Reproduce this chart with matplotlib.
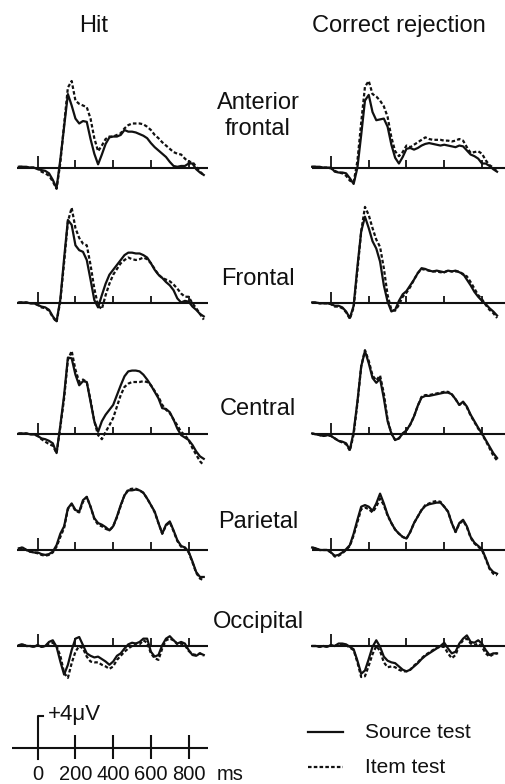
import numpy as np
import matplotlib
matplotlib.use("Agg")
import matplotlib.pyplot as plt

plt.rcParams['font.family'] = ['Liberation Sans', 'DejaVu Sans']

# ---------------- data (µV, sampled every 20 ms from -100 to 880 ms) ----------------
times = np.arange(-100, 881, 20)

af_hit_src = [0.1,0.1,0.1,0.0,0.0,-0.2, -0.3,-0.4,-0.7,-1.5,-2.5, 1.0,5.0,9.0,7.6,6.0, 5.4,5.7,5.6,3.5,1.7, 0.4,1.6,2.9,3.7,3.8, 3.8,4.0,4.6,4.4,4.4, 4.3,4.1,3.9,3.6,3.0, 2.5,2.1,1.7,1.3,0.7, 0.2,0.1,0.2,0.2,0.5, 0.5,-0.2,-0.6,-0.9]
af_hit_item = [0.1,0.1,0.0,0.0,0.0,-0.1, -0.5,-0.7,-1.0,-1.7,-2.6, 0.6,5.3,9.8,10.6,8.2, 7.8,7.6,7.4,6.0,3.6, 2.0,2.7,3.5,3.8,3.8, 4.0,4.2,4.8,5.2,5.4, 5.4,5.4,5.3,5.0,4.6, 4.0,3.6,3.1,2.7,2.3, 1.9,1.7,1.6,1.1,0.7, 0.7,0.1,-0.5,-0.9]
af_cr_src = [0.1,0.1,0.1,0.0,0.0,0.0, -0.5,-0.6,-0.6,-0.7,-1.3, -2.0,0.0,4.0,8.2,8.9, 6.8,5.8,5.9,6.0,5.0, 2.8,1.2,0.5,1.3,2.3, 2.4,2.2,2.4,2.7,2.9, 3.0,2.9,2.8,2.7,2.8, 2.7,2.6,2.5,2.7,2.6, 2.1,1.6,1.4,1.1,0.5, 0.5,0.2,-0.2,-0.5]
af_cr_item = [0.1,0.1,0.0,0.0,0.0,-0.1, -0.4,-0.6,-0.7,-1.0,-1.6, -1.8,0.8,5.5,9.9,10.6, 9.0,8.7,8.2,7.5,6.2, 3.7,2.0,1.4,1.9,2.7, 2.5,2.8,3.1,3.4,3.7, 3.5,3.4,3.4,3.4,3.3, 3.3,3.2,3.3,3.5,3.3, 2.5,1.8,1.9,2.0,1.7, 0.9,0.3,0.0,-0.5]

fr_hit_src = [0.1,0.1,0.1,0.0,0.0,-0.2, -0.4,-0.5,-0.8,-1.6,-2.2, 0.5,5.5,10.2,9.6,7.1, 6.5,6.3,5.3,2.9,0.4, -0.5,1.0,2.4,3.5,4.1, 4.7,5.3,5.9,6.2,6.2, 6.1,6.1,5.9,5.6,4.9, 4.1,3.5,3.1,2.6,2.2, 1.6,0.6,0.1,0.3,0.2, -0.4,-0.8,-1.3,-1.6]
fr_hit_item = [0.1,0.1,0.1,0.0,0.0,-0.2, -0.5,-0.6,-0.9,-1.7,-2.3, 0.3,5.0,10.0,11.7,9.2, 8.0,7.3,7.1,4.7,1.8, -0.3,-0.7,1.0,2.4,3.5, 4.2,4.9,5.3,5.6,5.4, 5.3,5.4,5.6,5.4,4.9, 4.2,3.5,3.1,2.9,2.7, 2.3,1.8,1.2,0.8,0.8, 0.0,-0.6,-1.3,-2.0]
fr_cr_src = [0.1,0.1,0.0,0.0,0.0,-0.1, -0.3,-0.3,-0.5,-1.0,-1.8, -0.3,4.5,8.8,10.6,9.2, 7.6,6.7,5.1,2.2,0.2, -1.0,-0.8,0.3,1.1,1.5, 2.2,2.9,3.7,4.3,4.2, 4.0,3.9,4.0,3.9,3.8, 4.0,3.9,4.0,3.8,3.6, 2.9,2.2,1.4,0.8,0.3, -0.1,-0.6,-1.0,-1.5]
fr_cr_item = [0.1,0.1,0.0,0.0,0.0,-0.1, -0.4,-0.4,-0.6,-1.1,-1.9, -0.5,4.0,8.8,11.8,10.8, 9.2,7.8,6.9,4.3,1.0, -0.8,-0.9,-0.2,0.8,1.3, 2.0,2.9,3.7,4.2,4.1, 4.0,3.9,3.9,3.8,3.8, 4.0,3.9,3.9,3.9,3.5, 3.3,2.6,1.8,1.0,0.5, -0.2,-0.8,-1.2,-1.8]

ce_hit_src = [0.1,0.1,0.1,0.0,0.0,-0.2, -0.5,-0.6,-0.8,-1.1,-2.3, 1.1,4.8,9.4,9.3,7.3, 6.0,6.5,6.4,4.0,1.6, 0.3,1.6,2.4,3.0,3.6, 4.8,6.0,7.1,7.7,7.8, 7.8,7.7,7.3,6.7,6.0, 5.2,4.4,3.2,3.1,2.7, 1.8,0.7,-0.1,-0.4,-0.7, -1.3,-2.1,-2.7,-3.0]
ce_hit_item = [0.1,0.1,0.1,0.0,0.0,-0.2, -0.6,-0.9,-1.2,-1.4,-2.3, 0.9,4.4,9.1,10.2,7.9, 6.4,6.7,6.4,4.2,1.6, -0.1,-0.6,0.3,1.1,2.0, 3.4,4.8,5.8,6.2,6.4, 6.4,6.4,6.5,6.4,6.0, 5.3,4.6,3.6,3.0,2.6, 1.8,1.1,0.3,-0.1,-0.7, -1.7,-2.5,-3.3,-3.8]
ce_cr_src = [0.1,0.0,-0.1,-0.2,-0.1,-0.2, -0.5,-0.8,-0.9,-1.1,-1.9, 0.3,4.0,8.3,10.2,8.7, 6.9,6.3,6.8,4.4,1.6, 0.1,-0.7,-0.5,0.1,0.5, 1.2,2.2,3.5,4.5,4.7, 4.7,4.8,4.9,5.0,5.1, 5.1,4.9,4.3,3.6,4.0, 3.4,2.4,1.6,0.8,0.1, -0.7,-1.5,-2.3,-2.9]
ce_cr_item = [0.1,0.0,-0.1,-0.2,-0.1,-0.2, -0.5,-0.8,-1.0,-1.2,-2.0, 0.0,3.8,8.3,10.3,9.0, 7.2,6.6,7.2,5.0,1.8, 0.1,-0.7,-0.5,0.1,0.5, 1.2,2.2,3.5,4.6,4.8, 4.8,4.9,5.0,5.1,5.2, 5.2,4.9,4.3,3.6,3.9, 3.3,2.3,1.5,0.7,0.0, -0.8,-1.7,-2.6,-3.2]

pa_hit_src = [0.2,0.3,0.0,-0.2,-0.3,-0.3, -0.5,-0.6,-0.5,-0.2,0.6, 2.0,2.9,5.1,5.7,4.9, 4.7,6.1,6.5,5.3,3.9, 3.3,3.1,2.8,2.4,2.9, 4.1,5.5,6.7,7.3,7.3, 7.4,7.3,7.0,6.3,5.5, 4.7,3.3,2.0,3.1,3.5, 2.4,1.2,0.5,0.3,-0.2, -1.4,-2.7,-3.3,-3.3]
pa_hit_item = [0.2,0.3,0.0,-0.2,-0.3,-0.4, -0.6,-0.7,-0.6,-0.3,0.4, 1.6,2.7,5.0,5.6,4.8, 4.6,5.9,6.5,5.3,3.8, 3.1,2.9,2.6,2.4,2.9, 4.0,5.4,6.7,7.4,7.5, 7.5,7.3,7.0,6.3,5.5, 4.6,3.3,2.0,3.0,3.4, 2.3,1.1,0.4,0.3,-0.3, -1.5,-2.8,-3.5,-3.7]
pa_cr_src = [0.3,0.2,0.0,0.0,0.0,-0.3, -0.7,-0.6,-0.3,0.1,0.6, 2.0,3.7,5.3,5.5,5.3, 4.8,5.7,6.9,5.7,4.3, 3.3,2.5,2.0,1.6,1.4, 2.2,3.3,4.1,4.9,5.4, 5.6,5.7,5.8,5.8,5.3, 4.7,3.3,2.2,3.3,3.7, 2.9,1.6,0.9,0.5,0.1, -1.0,-2.2,-2.7,-2.9]
pa_cr_item = [0.3,0.2,0.0,0.0,0.0,-0.3, -0.8,-0.7,-0.4,0.0,0.5, 1.8,3.4,5.0,5.2,5.0, 4.6,5.3,6.3,5.5,4.2, 3.3,2.5,2.0,1.6,1.4, 2.2,3.3,4.1,4.9,5.5, 5.7,5.9,6.0,5.9,5.3, 4.7,3.3,2.2,3.2,3.6, 2.8,1.5,0.8,0.4,0.0, -1.1,-2.3,-2.9,-3.1]

oc_hit_src = [0.1,0.2,0.0,0.0,-0.1,0.1, -0.1,0.0,0.5,0.7,-0.1, -1.9,-3.5,-2.3,-0.5,0.9, 1.1,0.1,-0.9,-1.2,-1.4, -1.3,-1.6,-1.9,-2.3,-1.9, -1.2,-0.9,-0.3,0.2,0.4, 0.3,0.5,0.9,0.9,-0.7, -1.3,-1.1,0.1,0.9,1.2, 0.7,0.3,0.5,0.3,-0.5, -1.1,-1.2,-0.9,-1.1]
oc_hit_item = [0.1,0.2,0.0,0.0,-0.1,0.1, -0.1,0.0,0.3,0.4,0.0, -1.2,-3.3,-3.9,-2.1,-0.7, 0.0,-0.3,-1.3,-1.9,-2.0, -2.0,-2.3,-2.5,-2.8,-2.5, -1.7,-1.2,-0.7,-0.3,0.0, 0.3,0.2,0.7,0.4,-0.9, -1.5,-1.7,-0.3,0.7,0.9, 0.7,0.2,0.3,0.1,-0.6, -1.0,-1.1,-0.9,-1.2]
oc_cr_src = [0.0,0.0,-0.1,0.0,-0.1,0.1, 0.0,0.3,0.3,0.2,-0.1, -0.4,-1.8,-3.4,-3.0,-1.6, -0.1,0.7,-0.1,-1.3,-1.8, -2.0,-2.1,-2.5,-2.9,-3.1, -2.9,-2.5,-2.1,-1.6,-1.2, -0.9,-0.6,-0.3,0.0,0.4, -0.3,-0.9,-0.7,0.3,0.9, 1.3,0.5,0.4,0.7,0.3, -0.5,-1.1,-0.9,-0.9]
oc_cr_item = [0.0,0.0,-0.1,0.0,-0.1,0.1, 0.0,0.2,0.2,0.1,-0.2, -0.5,-2.0,-3.8,-3.7,-2.4, -1.0,0.0,-0.6,-2.0,-2.6, -2.5,-2.6,-2.9,-3.1,-3.1, -2.9,-2.4,-2.0,-1.5,-1.1, -0.8,-0.5,-0.2,-0.1,-0.1, -0.9,-1.5,-1.1,0.1,0.7, 0.9,0.3,0.1,0.3,-0.1, -0.9,-1.3,-1.0,-0.9]

regions = ["Anterior\nfrontal", "Frontal", "Central", "Parietal", "Occipital"]
columns = ["Hit", "Correct rejection"]
conditions = ["Source test", "Item test"]
scale_ticks = [0, 200, 400, 600, 800]
scale_amp = 4

hit_src = [af_hit_src, fr_hit_src, ce_hit_src, pa_hit_src, oc_hit_src]
hit_item = [af_hit_item, fr_hit_item, ce_hit_item, pa_hit_item, oc_hit_item]
cr_src = [af_cr_src, fr_cr_src, ce_cr_src, pa_cr_src, oc_cr_src]
cr_item = [af_cr_item, fr_cr_item, ce_cr_item, pa_cr_item, oc_cr_item]
for arr in hit_src + hit_item + cr_src + cr_item:
    assert len(arr) == len(times), len(arr)

# ---------------- layout ----------------
W, H = 505, 784
fig = plt.figure(figsize=(W / 100, H / 100), dpi=100)
fig.patch.set_facecolor('white')

PX_MS = 0.1887
PX_UV = 8.17
T_MIN, T_MAX = -120, 920
V_MIN, V_MAX = -5, 13
col_zero_px = [37.7, 331.0]
row_base_px = [167.6, 303.3, 434.3, 550.0, 646.0]
INK = '#111111'
LW = 1.6
DASH = (0, (1.6, 1.0))


def panel_axes(zero_x, base_y):
    left = zero_x + T_MIN * PX_MS
    width = (T_MAX - T_MIN) * PX_MS
    top = base_y - V_MAX * PX_UV
    height = (V_MAX - V_MIN) * PX_UV
    ax = fig.add_axes([left / W, 1 - (top + height) / H, width / W, height / H])
    ax.set_xlim(T_MIN, T_MAX)
    ax.set_ylim(V_MIN, V_MAX)
    ax.axis('off')
    return ax


baseline_span = [(-111, 904), (-102, 960)]
series = [(hit_src, hit_item), (cr_src, cr_item)]
for c in range(2):
    for r in range(5):
        ax = panel_axes(col_zero_px[c], row_base_px[r])
        ax.plot(baseline_span[c], [0, 0], color=INK, lw=1.5, clip_on=False,
                solid_capstyle='butt')
        ax.vlines([scale_ticks[0]], 0, 1.43, color=INK, lw=1.3)
        ax.vlines(scale_ticks[1:], 0, 0.94, color=INK, lw=1.3)
        ax.plot(times, series[c][0][r], color=INK, lw=LW, clip_on=False,
                solid_joinstyle='round')
        ax.plot(times, series[c][1][r], color=INK, lw=LW, ls=DASH, clip_on=False)

# ---------------- scale bar ----------------
sb = panel_axes(col_zero_px[0], 748.3)
sb.plot([-136, 904], [0, 0], color=INK, lw=1.5, clip_on=False, solid_capstyle='butt')
sb.vlines(scale_ticks[1:], -1.25, 1.6, color=INK, lw=1.5)
sb.plot([0, 0, 30], [-1.25, scale_amp, scale_amp], color=INK, lw=1.5, clip_on=False)
sb.text(55, 3.46, "+4\u03bcV", fontsize=16, color=INK, ha='left', va='baseline')
for t in scale_ticks:
    sb.text(t, -3.85, str(t), fontsize=14.5, color=INK, ha='center', va='baseline')
sb.text(950, -3.85, "ms", fontsize=14.5, color=INK, ha='left', va='baseline')

# ---------------- labels & legend (pixel overlay) ----------------
ov = fig.add_axes([0, 0, 1, 1])
ov.set_xlim(0, W)
ov.set_ylim(H, 0)
ov.axis('off')
ov.text(94, 32.3, columns[0], fontsize=17, color=INK, ha='center', va='baseline')
ov.text(399, 32.3, columns[1], fontsize=17, color=INK, ha='center', va='baseline')
label_base = [109.3, 285.0, 415.0, 528.3, 628.0]
for r, name in enumerate(regions):
    if "\n" in name:
        a, b = name.split("\n")
        ov.text(258, label_base[r], a, fontsize=17, color=INK, ha='center', va='baseline')
        ov.text(258, label_base[r] + 25.5, b, fontsize=17, color=INK, ha='center', va='baseline')
    else:
        ov.text(258, label_base[r], name, fontsize=17, color=INK, ha='center', va='baseline')

ov.plot([308, 343], [731.7, 731.7], color=INK, lw=LW)
ov.plot([308, 343], [766.7, 766.7], color=INK, lw=LW, ls=DASH)
ov.text(365, 738, conditions[0], fontsize=15, color=INK, ha='left', va='baseline')
ov.text(365, 773, conditions[1], fontsize=15, color=INK, ha='left', va='baseline')

fig.savefig("out.png", dpi=100, facecolor='white')
